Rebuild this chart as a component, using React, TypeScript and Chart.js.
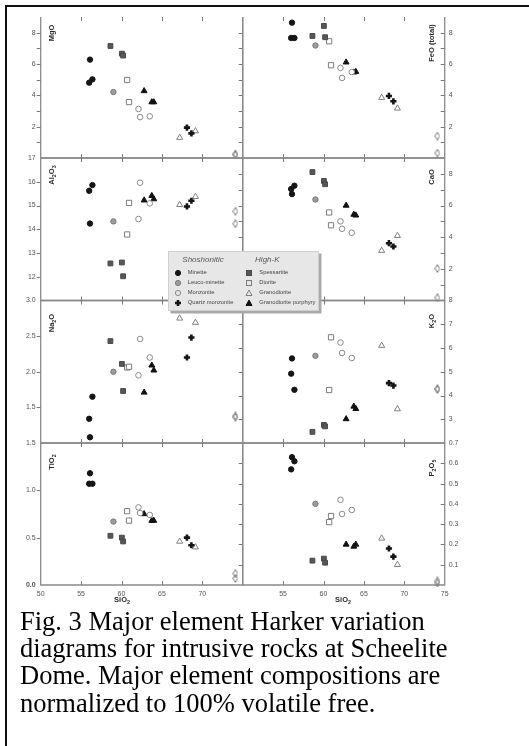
import React, { useEffect, useRef } from 'react';
import { Chart, registerables } from 'chart.js';
Chart.register(...registerables);

// ---------- data (wt%) ----------
const ROCK = [
  'Minette', 'Minette', 'Minette', 'Leuco-minette',
  'Monzonite', 'Monzonite', 'Monzonite', 'Quartz monzonite', 'Quartz monzonite',
  'Spessartite', 'Spessartite', 'Spessartite', 'Diorite', 'Diorite',
  'Granodiorite', 'Granodiorite', 'Granodiorite porphyry', 'Granodiorite porphyry', 'Granodiorite porphyry',
  'Other', 'Other',
];
const SIO2 = [56.1, 56.0, 56.4, 59.0, 62.1, 62.3, 63.5, 68.1, 68.65, 58.63, 60.05, 60.2, 60.7, 60.93, 67.2, 69.15, 62.8, 63.75, 64.0, 74.1, 74.1];
const MGO = [6.28, 4.81, 5.02, 4.21, 3.13, 2.61, 2.66, 1.94, 1.57, 7.15, 6.66, 6.54, 4.98, 3.57, 1.3, 1.72, 4.28, 3.57, 3.57, 0.25, 0.2];
const FEO = [8.64, 7.66, 7.66, 7.18, 5.75, 5.11, 5.49, 3.96, 3.62, 7.79, 8.43, 7.71, 7.45, 5.92, 3.85, 3.17, 6.11, 5.47, 5.51, 1.4, 0.31];
const AL2O3 = [14.24, 15.62, 15.86, 14.33, 14.43, 15.96, 15.09, 14.96, 15.2, 12.56, 12.6, 12.02, 13.78, 15.11, 15.03, 15.37, 15.22, 15.41, 15.27, 14.76, 14.23];
const CAO = [6.72, 7.04, 7.25, 6.38, 5.0, 4.53, 4.28, 3.62, 3.41, 8.11, 7.55, 7.34, 5.56, 4.75, 3.15, 4.09, 6.0, 5.43, 5.38, 2.02, 0.17];
const NA2O = [1.08, 1.34, 1.65, 2.0, 1.95, 2.46, 2.2, 2.2, 2.48, 2.43, 2.11, 1.73, 2.06, 2.07, 2.75, 2.69, 1.71, 2.09, 2.02, 1.38, 1.36];
const K2O = [5.56, 4.92, 4.24, 5.67, 6.23, 5.79, 5.58, 4.52, 4.42, 2.47, 2.76, 2.7, 4.23, 6.45, 6.1, 3.43, 3.01, 3.54, 3.44, 4.28, 4.26];
const TIO2 = [1.18, 1.07, 1.07, 0.67, 0.82, 0.76, 0.74, 0.5, 0.42, 0.52, 0.5, 0.46, 0.78, 0.68, 0.46, 0.4, 0.75, 0.68, 0.68, 0.12, 0.07];
const P2O5 = [0.63, 0.57, 0.61, 0.4, 0.42, 0.35, 0.37, 0.18, 0.14, 0.12, 0.13, 0.11, 0.31, 0.34, 0.23, 0.1, 0.2, 0.19, 0.2, 0.02, 0.01];

const SHOSHONITIC = ['Minette', 'Leuco-minette', 'Monzonite', 'Quartz monzonite'];
const HIGH_K = ['Spessartite', 'Diorite', 'Granodiorite', 'Granodiorite porphyry'];
const X_TICKS_LEFT = [50, 55, 60, 65, 70];
const X_TICKS_RIGHT = [55, 60, 65, 70, 75];

// ---------- styling ----------
const W = 529;
const H = 610;
const COLS = [
  { left: 40.7, right: 242.7 },
  { left: 242.7, right: 444.7 },
];
const ROWS: [number, number][] = [
  [17, 158],
  [158, 300.5],
  [300.5, 443],
  [443, 585],
];
const SANS = "'Liberation Sans', Arial, Helvetica, sans-serif";

type Style = { style: any; r: number; fill: string; stroke: string; bw: number };
const STYLES: Record<string, Style> = {
  'Minette': { style: 'circle', r: 2.7, fill: '#151515', stroke: '#151515', bw: 1 },
  'Leuco-minette': { style: 'circle', r: 2.7, fill: '#9c9c9c', stroke: '#7a7a7a', bw: 1 },
  'Monzonite': { style: 'circle', r: 2.8, fill: '#ffffff', stroke: '#8a8a8a', bw: 1 },
  'Quartz monzonite': { style: 'cross', r: 3.1, fill: '#151515', stroke: '#151515', bw: 2.6 },
  'Spessartite': { style: 'rect', r: 3.4, fill: '#575757', stroke: '#4a4a4a', bw: 1 },
  'Diorite': { style: 'rect', r: 3.7, fill: '#ffffff', stroke: '#7c7c7c', bw: 1 },
  'Granodiorite': { style: 'triangle', r: 3.5, fill: '#ffffff', stroke: '#808080', bw: 1 },
  'Granodiorite porphyry': { style: 'triangle', r: 3.4, fill: '#111111', stroke: '#111111', bw: 1 },
  'Other': { style: 'diamond', r: 3, fill: '#ffffff', stroke: '#808080', bw: 1 },
};

type Panel = {
  values: number[];
  col: number;
  row: number;
  min: number;
  max: number;
  step: number;
  show: (v: number) => boolean;
  fmt: (v: number) => string;
  boldZero?: boolean;
};
const near = (a: number, b: number) => Math.abs(a - b) < 1e-6;
const PANELS: Panel[] = [
  { values: MGO, col: 0, row: 0, min: 0, max: 9, step: 1, show: (v) => v > 0 && v < 9 && near(v % 2, 0), fmt: (v) => String(Math.round(v)) },
  { values: FEO, col: 1, row: 0, min: 0, max: 9, step: 1, show: (v) => v > 0 && v < 9 && near(v % 2, 0), fmt: (v) => String(Math.round(v)) },
  { values: AL2O3, col: 0, row: 1, min: 11, max: 17, step: 1, show: (v) => v > 11.5, fmt: (v) => String(Math.round(v)) },
  { values: CAO, col: 1, row: 1, min: 0, max: 9, step: 1, show: (v) => v > 0 && v < 9 && near(v % 2, 0), fmt: (v) => String(Math.round(v)) },
  { values: NA2O, col: 0, row: 2, min: 1, max: 3, step: 0.5, show: (v) => v > 1.2, fmt: (v) => v.toFixed(1) },
  { values: K2O, col: 1, row: 2, min: 2, max: 8, step: 1, show: (v) => v > 2.5, fmt: (v) => String(Math.round(v)) },
  { values: TIO2, col: 0, row: 3, min: 0, max: 1.5, step: 0.5, show: () => true, fmt: (v) => v.toFixed(1), boldZero: true },
  { values: P2O5, col: 1, row: 3, min: 0, max: 0.7, step: 0.1, show: (v) => v > 0.05, fmt: (v) => v.toFixed(1) },
];

const frameTicks = {
  id: 'frameTicks',
  beforeDatasetsDraw(chart: any, _args: any, opts: any) {
    const { ctx, chartArea: a } = chart;
    const x = chart.scales.x;
    const y = chart.scales.y;
    ctx.save();
    ctx.strokeStyle = '#8a8a8a';
    ctx.lineWidth = 1.3;
    ctx.beginPath();
    ctx.moveTo(a.left, a.top);
    ctx.lineTo(a.left, a.bottom);
    ctx.lineTo(a.right, a.bottom);
    ctx.lineTo(a.right, a.top);
    if (opts.topLine) {
      ctx.moveTo(a.left, a.top);
      ctx.lineTo(a.right, a.top);
    }
    ctx.stroke();
    ctx.strokeStyle = '#7a7a7a';
    ctx.lineWidth = 1;
    ctx.beginPath();
    for (const t of x.ticks) {
      if (t.value <= x.min || t.value >= x.max) continue;
      const px = Math.round(x.getPixelForValue(t.value)) + 0.5;
      ctx.moveTo(px, a.bottom);
      ctx.lineTo(px, a.bottom - 4);
      ctx.moveTo(px, a.top);
      ctx.lineTo(px, a.top + 4);
    }
    for (const t of y.ticks) {
      if (t.value <= y.min + 1e-9 || t.value >= y.max - 1e-9) continue;
      const py = Math.round(y.getPixelForValue(t.value)) + 0.5;
      ctx.moveTo(a.left, py);
      ctx.lineTo(a.left - 4, py);
      if (opts.col === 1) {
        ctx.moveTo(a.right, py);
        ctx.lineTo(a.right - 4, py);
      }
    }
    ctx.stroke();
    ctx.restore();
  },
};

function makeDiamond(): HTMLCanvasElement {
  const c = document.createElement('canvas');
  c.width = 6;
  c.height = 9;
  const g = c.getContext('2d')!;
  g.strokeStyle = '#7a7a7a';
  g.lineWidth = 1;
  g.beginPath();
  g.moveTo(3, 0.6);
  g.lineTo(5.3, 4.5);
  g.lineTo(3, 8.4);
  g.lineTo(0.7, 4.5);
  g.closePath();
  g.stroke();
  return c;
}

const ROCK_ORDER = [...SHOSHONITIC, ...HIGH_K, 'Other'];

const sub = (t: string) => (
  <sub style={{ fontSize: '0.72em', verticalAlign: '-0.3em', lineHeight: 0 }}>{t}</sub>
);

const TITLES: { x: number; y: number; node: React.ReactNode }[] = [
  { x: 52, y: 32.5, node: <>MgO</> },
  { x: 52, y: 175, node: <>Al{sub('2')}O{sub('3')}</> },
  { x: 52, y: 323, node: <>Na{sub('2')}O</> },
  { x: 52, y: 462, node: <>TiO{sub('2')}</> },
  { x: 431.5, y: 42.5, node: <>FeO (total)</> },
  { x: 431.5, y: 177, node: <>CaO</> },
  { x: 431.5, y: 321, node: <>K{sub('2')}O</> },
  { x: 431.5, y: 467.5, node: <>P{sub('2')}O{sub('5')}</> },
];

function Marker({ name }: { name: string }) {
  const s = STYLES[name];
  let shape: React.ReactNode = null;
  if (s.style === 'circle') shape = <circle cx={4} cy={4} r={2.6} fill={s.fill === '#ffffff' ? 'none' : s.fill} stroke={s.stroke} strokeWidth={1} />;
  else if (s.style === 'rect') shape = <rect x={1.5} y={1.5} width={5} height={5} fill={s.fill === '#ffffff' ? 'none' : s.fill} stroke={s.stroke} strokeWidth={1} />;
  else if (s.style === 'triangle') shape = <polygon points="4,1 7,6.5 1,6.5" fill={s.fill === '#ffffff' ? 'none' : s.fill} stroke={s.stroke} strokeWidth={1} />;
  else if (s.style === 'cross') shape = <path d="M4 1 V7 M1 4 H7" stroke={s.stroke} strokeWidth={2.6} />;
  return (
    <svg width={8} height={8} style={{ position: 'absolute', left: -4, top: -4 }}>
      {shape}
    </svg>
  );
}

export default function App() {
  const refs = useRef<(HTMLCanvasElement | null)[]>([]);

  useEffect(() => {
    const dia = makeDiamond();
    const charts = PANELS.map((p, i) => {
      const cv = refs.current[i]!;
      const col = COLS[p.col];
      const [top, bottom] = ROWS[p.row];
      const bottomRow = p.row === 3;
      const xh = bottomRow ? 20 : 0;
      const yw = 30;
      const padding =
        p.col === 0
          ? { left: col.left - yw, right: W - col.right, top, bottom: H - bottom - xh }
          : { left: col.left, right: W - col.right - yw, top, bottom: H - bottom - xh };
      const datasets = ROCK_ORDER.map((name) => {
        const s = STYLES[name];
        const data: { x: number; y: number }[] = [];
        ROCK.forEach((r, k) => {
          if (r === name) data.push({ x: SIO2[k], y: p.values[k] });
        });
        return {
          label: name,
          data,
          pointStyle: s.style === 'diamond' ? dia : s.style,
          pointRadius: s.r,
          pointHoverRadius: s.r,
          pointBackgroundColor: s.fill,
          pointBorderColor: s.stroke,
          pointBorderWidth: s.bw,
          showLine: false,
          clip: false as any,
        };
      });
      const xLabels = p.col === 0 ? X_TICKS_LEFT : X_TICKS_RIGHT;
      return new Chart(cv, {
        type: 'scatter',
        data: { datasets: datasets as any },
        options: {
          responsive: false,
          animation: false,
          devicePixelRatio: 1,
          events: [],
          layout: { padding },
          plugins: {
            legend: { display: false },
            tooltip: { enabled: false },
            frameTicks: { topLine: p.row > 0, col: p.col },
          } as any,
          scales: {
            x: {
              type: 'linear',
              position: 'bottom',
              min: 50,
              max: 75,
              grid: { display: false, drawTicks: false },
              border: { display: false },
              ticks: {
                display: bottomRow,
                stepSize: 5,
                autoSkip: false,
                maxRotation: 0,
                padding: 5,
                color: '#555',
                font: { family: SANS, size: 7 },
                callback: (v: any) => (xLabels.includes(Number(v)) ? String(v) : ''),
              },
              afterFit: (s: any) => {
                s.height = xh;
              },
            },
            y: {
              type: 'linear',
              position: p.col === 0 ? 'left' : 'right',
              min: p.min,
              max: p.max,
              grid: { display: false, drawTicks: false },
              border: { display: false },
              ticks: {
                stepSize: p.step,
                autoSkip: false,
                padding: p.col === 0 ? 5 : 4,
                color: '#555',
                font: (ctx: any) => ({
                  family: SANS,
                  size: 7,
                  weight: p.boldZero && ctx.tick && near(ctx.tick.value, 0) ? 'bold' : 'normal',
                }),
                callback: (v: any) => {
                  const n = Number(v);
                  return p.show(n) ? p.fmt(n) : '';
                },
              },
              afterFit: (s: any) => {
                s.width = yw;
              },
            },
          },
        } as any,
        plugins: [frameTicks as any],
      });
    });
    return () => charts.forEach((c) => c.destroy());
  }, []);

  const titleStyle: React.CSSProperties = {
    position: 'absolute',
    transform: 'translate(-50%, -50%) rotate(-90deg)',
    fontFamily: SANS,
    fontWeight: 'bold',
    fontSize: 7.5,
    color: '#2a2a2a',
    whiteSpace: 'nowrap',
    lineHeight: 1,
  };

  const legendRowY = [21, 31.2, 41.4, 51.6];

  return (
    <div
      style={{
        position: 'fixed',
        left: 0,
        top: 0,
        width: W,
        height: 746,
        background: '#ffffff',
        overflow: 'hidden',
      }}
    >
      <div
        style={{
          position: 'absolute',
          left: 4.5,
          top: 4.8,
          width: 600,
          height: 800,
          borderLeft: '2px solid #111',
          borderTop: '2px solid #111',
        }}
      />
      {PANELS.map((_, i) => (
        <canvas
          key={i}
          ref={(el) => {
            refs.current[i] = el;
          }}
          width={W}
          height={H}
          style={{ position: 'absolute', left: 0, top: 0, width: W, height: H }}
        />
      ))}
      {TITLES.map((t, i) => (
        <div key={i} style={{ ...titleStyle, left: t.x, top: t.y }}>
          {t.node}
        </div>
      ))}
      {[122, 343].map((cx, i) => (
        <div
          key={i}
          style={{
            position: 'absolute',
            left: cx,
            top: 600,
            transform: 'translate(-50%, -50%)',
            fontFamily: SANS,
            fontWeight: 'bold',
            fontSize: 7.5,
            color: '#2a2a2a',
            whiteSpace: 'nowrap',
            lineHeight: 1,
          }}
        >
          SiO{sub('2')}
        </div>
      ))}
      {/* legend */}
      <div
        style={{
          position: 'absolute',
          left: 168.3,
          top: 250.7,
          width: 150.5,
          height: 60.5,
          boxSizing: 'border-box',
          background: '#e7e7e7',
          border: '1px solid #cfcfcf',
          boxShadow: '2.5px 2.5px 0 #a9a9a9',
          fontFamily: SANS,
        }}
      >
        {[
          { title: 'Shoshonitic', cx: 33.7, items: SHOSHONITIC, mx: 8.4, tx: 18.4 },
          { title: 'High-K', cx: 98, items: HIGH_K, mx: 80, tx: 90 },
        ].map((g, gi) => (
          <React.Fragment key={gi}>
            <div
              style={{
                position: 'absolute',
                left: g.cx,
                top: 8.6,
                transform: 'translate(-50%, -50%)',
                fontStyle: 'italic',
                fontSize: 8,
                color: '#555',
                whiteSpace: 'nowrap',
                lineHeight: 1,
              }}
            >
              {g.title}
            </div>
            {g.items.map((name, k) => (
              <React.Fragment key={name}>
                <div style={{ position: 'absolute', left: g.mx, top: legendRowY[k] }}>
                  <Marker name={name} />
                </div>
                <div
                  style={{
                    position: 'absolute',
                    left: g.tx,
                    top: legendRowY[k],
                    transform: 'translateY(-50%)',
                    fontSize: 5.8,
                    color: '#444',
                    whiteSpace: 'nowrap',
                    lineHeight: 1,
                  }}
                >
                  {name}
                </div>
              </React.Fragment>
            ))}
          </React.Fragment>
        ))}
      </div>
      {/* caption */}
      <div
        style={{
          position: 'absolute',
          left: 20,
          top: 607.5,
          fontFamily: "'Liberation Serif', 'Times New Roman', Times, serif",
          fontSize: 26.5,
          lineHeight: '27.4px',
          color: '#000',
          whiteSpace: 'nowrap',
        }}
      >
        Fig. 3 Major element Harker variation
        <br />
        diagrams for intrusive rocks at Scheelite
        <br />
        Dome. Major element compositions are
        <br />
        normalized to 100% volatile free.
      </div>
    </div>
  );
}
